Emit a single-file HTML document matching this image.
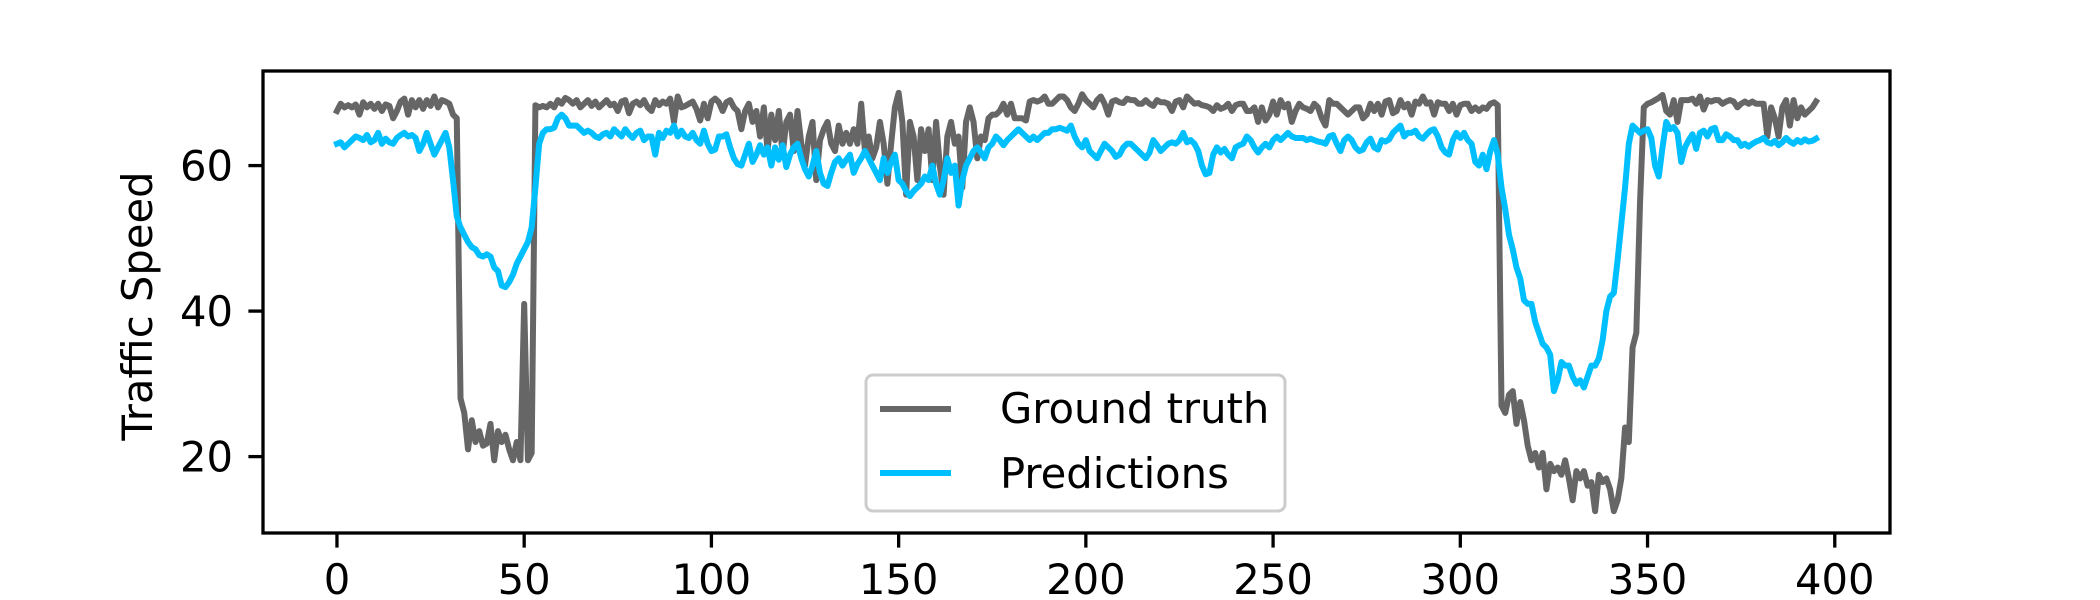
<!DOCTYPE html>
<html><head><meta charset="utf-8"><style>
html,body{margin:0;padding:0;background:#fff;}
svg{display:block;font-family:"DejaVu Sans","Liberation Sans",sans-serif;}
</style></head><body>
<svg id="chart" width="2100" height="600" viewBox="0 0 2100 600" xmlns="http://www.w3.org/2000/svg">
<rect x="0" y="0" width="2100" height="600" fill="#fff"/>
<g id="plot"></g>
<rect x="263" y="71" width="1627" height="462" fill="none" stroke="#000" stroke-width="3.3"/>
<g id="xticks"></g><g id="yticks"></g>
<text x="0" y="0" font-size="41.7" text-anchor="middle" transform="translate(152,306) rotate(-90)">Traffic Speed</text>
<g>
<rect x="866" y="375" width="419" height="136" rx="7" fill="#fff" fill-opacity="0.85" stroke="#ccc" stroke-width="3"/>
<line x1="880" y1="409" x2="951" y2="409" stroke="#666666" stroke-width="6"/>
<text x="1000" y="423" font-size="41.7">Ground truth</text>
<line x1="880" y1="473" x2="951" y2="473" stroke="#00bfff" stroke-width="6"/>
<text x="1000" y="488" font-size="41.7">Predictions</text>
</g>
</svg>
<script>
const xTicks=[0,50,100,150,200,250,300,350,400];
const yTicks=[20,40,60];
const groundTruth=[
67.5,68.5,68,68.3,68,68.4,67,68.7,68,68.5,
67.8,68.5,67.5,68.4,68.2,66.5,67.5,68.8,69.2,67,
69,68,69,67.8,69,68.2,69.5,68,69,68.8,
68.5,67,66.5,28,26,21,25,22,23.5,21.5,
21.8,24.5,19.5,23.5,22,23,21,19.5,22,19.5,
41,19.5,20.5,68.3,68,68.2,68,68.5,68,69,
68.5,69.3,69,68.5,69,68,68.5,69,68.2,68.8,
68,68.5,69,68.3,68.5,67.5,68.8,69,67.2,68.5,
68.8,68.3,69,68,
67.5,69,68.3,68.8,68.5,69.2,66,69.5,68,68.2,68.5,68.8,67.8,66.2,68.5,66.5,68.8,
69.2,68.7,67.5,68.7,69,68,67.5,65,67.5,68.5,
66,67.5,64,68,62,67,63.5,67.5,61.5,66,67,62,67.5,63,60,64,66,58,63.5,65,
66,63,62,65.5,63,64.5,63,65,63,68.5,62,64,61,62.5,66,63,57.5,63,68,70,
66,56,66,64,58,65,62,65,58,66,60,56,64,66,63,64,57,66,68,66,
61,64,63.5,66.5,67,67,67.5,68.5,67,68.5,66.5,66.5,66.5,66.2,68.8,
69,68.8,69,69.5,68.5,68.5,69,69.5,69.5,69,68,67.5,68.5,69.8,69,
68.5,68,69,69.5,68.5,67,68.8,69,68.7,68.6,69.2,69,69,68.5,68.5,69,68.5,
68.2,69,68.7,68.7,68.5,67.5,68.8,69,68,69.5,69,68.5,68.6,68.3,68.2,68,67.5,68.3,67.8,68,68.5,67.5,68.3,
68.5,68.5,67.5,67.5,68,66,68,66.2,67,68.8,67,69,68,68.5,66,67.5,68.5,68,67.8,67.5,
68.5,68,66.5,65.5,69,68.5,68.5,68,67.5,67,67.5,68,68,66.5,67,68.5,67.5,68.5,67,68.8,
69,67.2,67.5,69,68,68.5,67,68.8,68.5,69.5,68.5,68.7,67,68.7,68.5,68.5,67.5,68.5,67,68.3,
68.5,68.5,67.5,68,67.5,68,67.8,68.5,68.7,68.3,
27,26,28.5,29,24.5,27.5,25,21.5,19.5,20.5,18.5,20.5,15.5,19,18,18.5,17.5,19.5,17,14,
18,17,18,16,16.5,12.5,17.5,16.5,17,15.5,12.5,14,17,24,22,35,37,55,68,
68.5,68.7,69,69.3,69.7,67.5,67,69,66,69,69,69,69.2,68.5,69.5,67.7,69,68.8,69,69,
68.5,68.8,69,68.8,68,68.5,68.8,68.5,68.8,68.5,68.5,68.5,64,68,66.5,64,68,69,65.5,69,
66.5,68,67,67.5,68,68.8];
const predictions=[
63,63.2,62.5,63,63.5,64,63.8,63.5,64.2,63.2,
63.5,64.5,63,63.7,63.2,63,63.8,64.2,64.5,64,
64.2,63.8,62,63,64.5,63,61.5,62.5,63.5,64.5,
62.5,58,53,51.5,50.5,49.5,48.8,48.5,47.7,47.5,47.8,
47.5,46,45.5,43.5,43.3,44,45,46.5,47.5,48.5,
49.5,51.5,57,63,64.5,65,
65,65.2,66.5,67,66.5,65.5,65.5,65.5,65,
64.5,64.8,64.5,64,63.8,64.3,64.5,64,65,64.5,64,65,64.3,63.8,64.5,64.8,63.5,64,
64,61.5,64.5,63.8,64.8,64.5,65.5,64,64.8,64,63.8,64.5,63.5,63,64.8,63,62,
62.2,64,64,64.3,62.5,61,60.2,60,61.5,63,
60.5,61.5,62.8,61.5,62.5,60,62.5,60.8,62.8,59.8,61.5,62.5,63,61,59.5,58.5,60,62,59,57.5,
57.2,59,60.5,61,60,60.8,61.5,59,60.2,61,62,61,60,59,58,61,59,60.5,61.5,58,
57.5,56.5,55.8,56.5,57,57.5,58.5,58,60,57.5,56,58,61,59,60,54.5,58,60,61,62,
62.5,61.8,61,62.5,63,64,63.5,62.8,63.5,64,64.5,65,64.5,64,63.5,
64,63.5,64,64.5,64.5,65,65,65.2,65,64.8,65.5,64,63,62.5,63.5,
62,61.5,61,62,63,62.5,62,61.2,61.5,62.5,63,63,62.5,62,61.5,61,61.8,
63.5,62.8,62,62.5,63,63.2,63,63.5,64.5,63.2,63.5,63,62,60,58.8,59,61.5,62.5,61.8,62.3,61.5,61,62.5,
62.8,63,64,63.5,62.5,61.8,62.5,63,62.5,63.5,64,63.5,64,64.5,64,63.8,63.8,63.8,63.5,63.7,
63.5,63.3,63.2,63,64,64.2,63,62,63.5,64,63.5,62.5,62,62.2,63.2,63.7,62.5,62.2,63.5,63.3,
63.6,64.5,65,65.5,64,64.5,64.5,64.8,64,63.7,64.3,64.8,65,64,62.5,61.8,61.5,63.5,64.5,63.8,
64.5,63.5,63,60.5,60,61.5,59.5,62,63.5,61.5,
57,54,50.5,48.5,46,44.5,41.5,41,41,38.5,37,35.5,35,34,29,30.5,33,32.5,32.5,31,
30,30.5,29.5,31,32.5,32.5,33.5,36,40,42,42.5,47,52,57,63,65.5,65,64.5,64.8,65,
63.8,60,58.5,62.5,66,65,65.3,64.5,60.5,62.5,63.5,64.3,62.3,64.5,64.8,64,65,65.2,63.5,63.5,
64.3,64,63.5,63.5,62.7,63,62.6,63,63.3,63.5,63.8,63.2,63,63.4,62.8,63.2,63.8,63.3,63,63.5,
63.2,63.6,63.3,63.4,63.7];
const NS="http://www.w3.org/2000/svg";
const X0=-19.75,X1=414.75,Y0=9.5,Y1=73;
const L=263,R=1890,T=71,B=533;
function xs(v){return L+(v-X0)/(X1-X0)*(R-L);}
function ys(v){return B-(v-Y0)/(Y1-Y0)*(B-T);}
function mk(tag,attrs,parent){const e=document.createElementNS(NS,tag);for(const k in attrs)e.setAttribute(k,attrs[k]);parent.appendChild(e);return e;}
const plot=document.getElementById('plot');
function series(arr,color,name){
  let d='';arr.forEach((v,i)=>{d+=(i?'L':'M')+xs(i).toFixed(2)+','+ys(v).toFixed(2);});
  const p=mk('path',{d:d,fill:'none',stroke:color,'stroke-width':6,'stroke-linejoin':'round','stroke-linecap':'square'},plot);
  
  
}
series(groundTruth,'#666666','ground-truth-line');
series(predictions,'#00bfff','predictions-line');
const xg=document.getElementById('xticks');
xTicks.forEach(t=>{
  const x=xs(t);
  const tl=mk('line',{x1:x,y1:B,x2:x,y2:B+14.6,stroke:'#000','stroke-width':3.3},xg);
  
  
  const tx=mk('text',{x:x,y:B+61,'font-size':41.7,'text-anchor':'middle'},xg);
  tx.textContent=t;
  
  
});
const yg=document.getElementById('yticks');
yTicks.forEach(t=>{
  const y=ys(t);
  const tl=mk('line',{x1:L-14.6,y1:y,x2:L,y2:y,stroke:'#000','stroke-width':3.3},yg);
  
  
  const tx=mk('text',{x:L-30,y:y+15,'font-size':41.7,'text-anchor':'end'},yg);
  tx.textContent=t;
  
  
});
</script>
</body></html>
